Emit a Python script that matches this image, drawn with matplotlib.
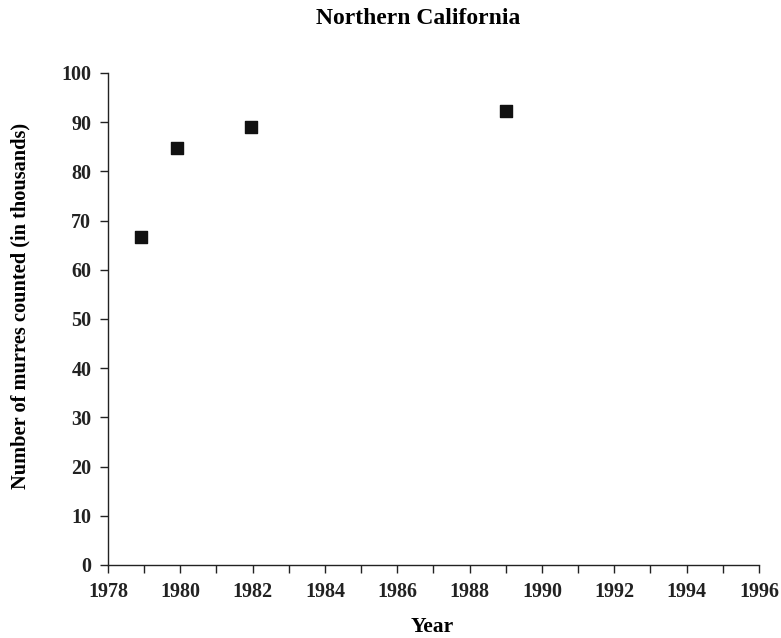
import matplotlib
matplotlib.use("Agg")
import matplotlib.pyplot as plt
import numpy as np

# Dati
years = [1978.9, 1979.9, 1981.95, 1989.0]
murres = [66.7, 84.8, 89.0, 92.3]

plt.rcParams['font.family'] = ['Liberation Serif', 'DejaVu Serif']
plt.rcParams['font.weight'] = 'bold'

W, H = 781, 638
fig = plt.figure(figsize=(7.81, 6.38), dpi=100)
ax = fig.add_axes([108 / W, 1 - 565 / H, 651 / W, 492 / H])

ax.scatter(years, murres, marker='s', s=72, color='#111111', zorder=3)

ax.set_xlim(1978, 1996)
ax.set_ylim(0, 100)
ax.set_xticks(np.arange(1978, 1997, 2))
ax.set_xticks(np.arange(1978, 1997, 1), minor=True)
ax.set_yticks(np.arange(0, 101, 10))

for s in ['top', 'right']:
    ax.spines[s].set_visible(False)
for s in ['left', 'bottom']:
    ax.spines[s].set_linewidth(1.0)
    ax.spines[s].set_color('#222222')

ax.tick_params(axis='both', which='both', direction='out', length=5.5, width=1, colors='#222222')
ax.tick_params(axis='x', which='major', labelsize=14.5, pad=7)
ax.tick_params(axis='y', which='major', labelsize=14.5, pad=6.5)
for lab in ax.get_xticklabels() + ax.get_yticklabels():
    lab.set_fontweight('bold')

# Etichette posizionate come nel riferimento
fig.text(432 / W, 1 - 627 / H, 'Year', ha='center', va='center', fontsize=15.5, fontweight='bold')
fig.text(20 / W, 1 - 306 / H, 'Number of murres counted (in thousands)', rotation=90,
         ha='center', va='center', fontsize=14.7, fontweight='bold')
fig.text(418 / W, 1 - 18 / H, 'Northern California', ha='center', va='center', fontsize=17, fontweight='bold')

fig.savefig('out.png', dpi=100)
